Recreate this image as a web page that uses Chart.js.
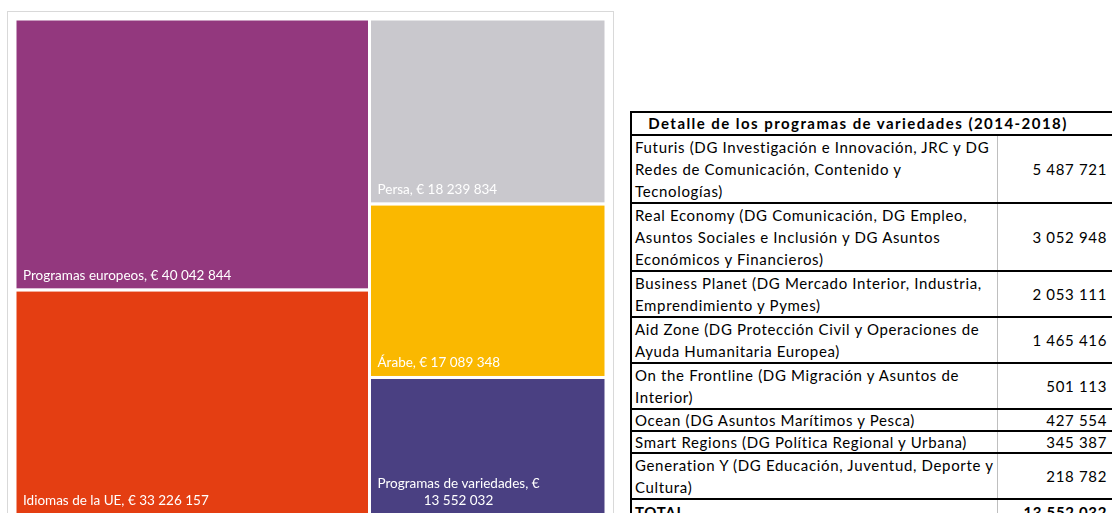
<!DOCTYPE html>
<html>
<head>
<meta charset="utf-8">
<script src="https://cdn.jsdelivr.net/npm/chart.js@4.4.0/dist/chart.umd.min.js"></script>
<style>
  body { margin: 0; width: 1112px; height: 513px; overflow: hidden; background: #fff; font-family: Lato, sans-serif; }
  #box { position: absolute; left: 7px; top: 11px; width: 605px; height: 509px; border: 1px solid #d9d9d9; }
  #detail { position: absolute; left: 630px; top: 111px; width: 492px; table-layout: fixed; border-collapse: collapse; border: 2px solid #000;
            font-size: 15px; line-height: 22px; letter-spacing: 0.66px; color: #000; }
  #detail th { font-weight: bold; text-align: center; border-bottom: 2px solid #000; padding: 0 36px 0 0; letter-spacing: 1.45px; line-height: 21px; }
  #detail td { border-top: 2px solid #000; padding: 0 3px; vertical-align: top; white-space: pre; overflow: visible; }
  #detail tr.single td { line-height: 20px; }
  #detail td.num { border-left: 1px solid #bfbfbf; text-align: right; vertical-align: middle; padding-right: 13px; }
  #detail tr.total td { font-weight: bold; padding-top: 1px; }
</style>
</head>
<body>
<div id="box"><canvas id="treemap"></canvas></div>
<table id="detail"><colgroup><col style="width:366px"><col></colgroup><tbody id="rows"></tbody></table>
<script>
// treemap data
const categories = ["Programas europeos", "Idiomas de la UE", "Persa", "Árabe", "Programas de variedades"];
const budgets = [40042844, 33226157, 18239834, 17089348, 13552032];
const cellColors = ["#93387e", "#e43e12", "#c9c8cd", "#fab800", "#4a4082"];

// table data
const tableTitle = "Detalle de los programas de variedades (2014-2018)";
const programNames = [
  "Futuris (DG Investigación e Innovación, JRC y DG\nRedes de Comunicación, Contenido y\nTecnologías)",
  "Real Economy (DG Comunicación, DG Empleo,\nAsuntos Sociales e Inclusión y DG Asuntos\nEconómicos y Financieros)",
  "Business Planet (DG Mercado Interior, Industria,\nEmprendimiento y Pymes)",
  "Aid Zone (DG Protección Civil y Operaciones de\nAyuda Humanitaria Europea)",
  "On the Frontline (DG Migración y Asuntos de\nInterior)",
  "Ocean (DG Asuntos Marítimos y Pesca)",
  "Smart Regions (DG Política Regional y Urbana)",
  "Generation Y (DG Educación, Juventud, Deporte y\nCultura)"
];
const programValues = [5487721, 3052948, 2053111, 1465416, 501113, 427554, 345387, 218782];

function fmt(v) {
  return String(v).replace(/\B(?=(\d{3})+(?!\d))/g, "\u00a0");
}

// table
let html = "<tr><th colspan='2'>" + tableTitle + "</th></tr>";
programNames.forEach((name, i) => {
  const cls = name.includes("\n") ? "" : " class='single'";
  html += "<tr" + cls + "><td>" + name + "</td><td class='num'>" + fmt(programValues[i]) + "</td></tr>";
});
html += "<tr class='total'><td>TOTAL</td><td class='num'>" + fmt(programValues.reduce((a, b) => a + b, 0)) + "</td></tr>";
document.getElementById("rows").innerHTML = html;

// squarified layout in a w x h box
function worst(row, side) {
  const s = row.reduce((a, b) => a + b, 0);
  const mx = Math.max(...row), mn = Math.min(...row);
  return Math.max(side * side * mx / (s * s), (s * s) / (side * side * mn));
}
function squarify(vals, w, h) {
  const total = vals.reduce((a, b) => a + b, 0);
  const areas = vals.map(v => v * w * h / total);
  let rx = 0, ry = 0, rw = w, rh = h, i = 0;
  const out = [];
  while (i < areas.length) {
    const side = Math.min(rw, rh);
    const row = [areas[i]];
    let j = i + 1;
    while (j < areas.length && worst(row.concat(areas[j]), side) <= worst(row, side)) {
      row.push(areas[j]);
      j++;
    }
    const thick = row.reduce((a, b) => a + b, 0) / side;
    let off = 0;
    row.forEach(a => {
      const len = a / thick;
      if (rw >= rh) out.push({ x: rx, y: ry + off, w: thick, h: len });
      else out.push({ x: rx + off, y: ry, w: len, h: thick });
      off += len;
    });
    if (rw >= rh) { rx += thick; rw -= thick; } else { ry += thick; rh -= thick; }
    i = j;
  }
  return out;
}

const treemapCells = {
  id: "treemapCells",
  afterDatasetsDraw(chart) {
    const { ctx, chartArea, scales: { x, y } } = chart;
    const aspect = chartArea.width / chartArea.height;
    const rects = squarify(budgets, aspect, 1);
    ctx.save();
    ctx.font = "13.5px Lato";
    rects.forEach((r, i) => {
      const left = x.getPixelForValue(r.x / aspect);
      const right = x.getPixelForValue((r.x + r.w) / aspect);
      const top = y.getPixelForValue(1 - r.y);
      const bottom = y.getPixelForValue(1 - r.y - r.h);
      ctx.fillStyle = cellColors[i];
      ctx.fillRect(left, top, right - left, bottom - top);
      ctx.strokeStyle = "#fff";
      ctx.lineWidth = 3;
      ctx.strokeRect(left, top, right - left, bottom - top);

      // label, bottom-left, wrapped at normal spaces
      const text = categories[i] + ", € " + fmt(budgets[i]);
      const maxW = right - left - 16;
      const words = text.split(" ");
      const lines = [];
      let cur = "";
      words.forEach(wd => {
        const test = cur ? cur + " " + wd : wd;
        if (cur && ctx.measureText(test).width > maxW) { lines.push(cur); cur = wd; }
        else cur = test;
      });
      lines.push(cur);
      const tx = left + 8;
      const firstW = ctx.measureText(lines[0]).width;
      ctx.fillStyle = "#fff";
      ctx.textBaseline = "alphabetic";
      lines.forEach((ln, k) => {
        const by = bottom - 10 - (lines.length - 1 - k) * 17.5;
        const lw = ctx.measureText(ln).width;
        const lx = k === 0 ? tx : tx + (firstW - lw) / 2;
        ctx.fillText(ln, lx, by);
      });
    });
    ctx.restore();
  }
};

new Chart(document.getElementById("treemap").getContext("2d"), {
  type: "scatter",
  data: { datasets: [{ label: "Presupuesto", data: [] }] },
  options: {
    responsive: true,
    maintainAspectRatio: false,
    animation: false,
    layout: { padding: { left: 7, top: 7, right: 7, bottom: 6 } },
    plugins: { legend: { display: false }, tooltip: { enabled: false } },
    scales: {
      x: { type: "linear", min: 0, max: 1, display: false },
      y: { type: "linear", min: 0, max: 1, display: false }
    }
  },
  plugins: [treemapCells]
});
</script>
</body>
</html>
